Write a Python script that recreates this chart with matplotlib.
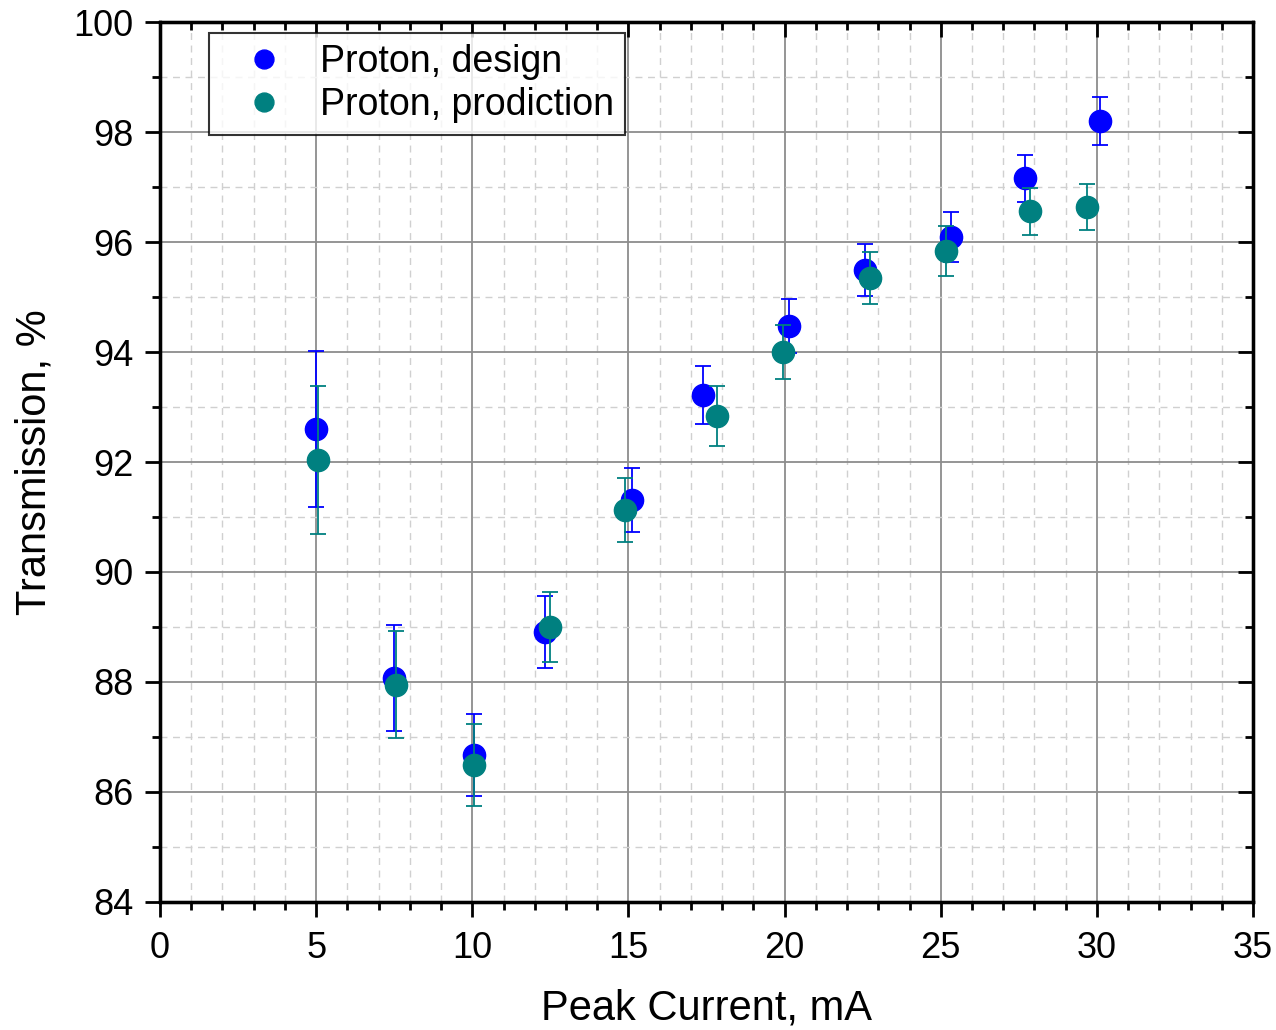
import numpy as np
import matplotlib.pyplot as plt
from matplotlib.ticker import MultipleLocator

plt.rcParams["font.family"] = ["Liberation Sans", "DejaVu Sans"]

# =========================
# 数据
# =========================

design_x = [5.0, 7.5, 10.06, 12.34, 15.1, 17.4, 20.13, 22.56, 25.32, 27.7, 30.1]
design_y = [92.6, 88.07, 86.67, 88.91, 91.31, 93.22, 94.47, 95.49, 96.09, 97.16, 98.2]
design_err = [1.42, 0.96, 0.75, 0.65, 0.59, 0.53, 0.49, 0.47, 0.45, 0.43, 0.43]

pred_x = [5.06, 7.56, 10.06, 12.5, 14.9, 17.82, 19.94, 22.72, 25.16, 27.85, 29.68]
pred_y = [92.04, 87.95, 86.49, 89.0, 91.13, 92.84, 94.0, 95.35, 95.84, 96.56, 96.64]
pred_err = [1.35, 0.97, 0.75, 0.64, 0.58, 0.55, 0.49, 0.47, 0.45, 0.43, 0.42]

# =========================
# 画图
# =========================

fig = plt.figure(figsize=(12.76, 10.30), dpi=100)
ax = fig.add_axes([0.1254, 0.1243, 0.8566, 0.8543])

ax.errorbar(design_x, design_y, yerr=design_err, fmt="o", color="#0000ff",
            ms=16, capsize=6, elinewidth=1.3, capthick=1.3,
            label="Proton, design", zorder=3)
ax.errorbar(pred_x, pred_y, yerr=pred_err, fmt="o", color="#008080",
            ms=16, capsize=6, elinewidth=1.3, capthick=1.3,
            label="Proton, prodiction", zorder=4)

ax.set_xlim(0, 35)
ax.set_ylim(84, 100)
ax.xaxis.set_major_locator(MultipleLocator(5))
ax.xaxis.set_minor_locator(MultipleLocator(1))
ax.yaxis.set_major_locator(MultipleLocator(2))
ax.yaxis.set_minor_locator(MultipleLocator(1))

# 网格
ax.grid(which="major", color="#8c8c8c", linestyle="-", linewidth=1.3, zorder=0)
ax.grid(which="minor", color="#d0d0d0", linestyle=(0, (5, 4)), linewidth=1.0, zorder=0)
ax.set_axisbelow(True)

for s in ax.spines.values():
    s.set_linewidth(2.3)

ax.tick_params(which="major", direction="out", length=11, width=2.0, labelsize=26)
ax.tick_params(which="minor", direction="out", length=6, width=2.0)
ax.tick_params(axis="x", which="major", pad=10)
ax.tick_params(axis="y", which="major", pad=8)

# 上、右两侧的内向刻度
axt = ax.twiny()
axt.set_xlim(ax.get_xlim())
axt.xaxis.set_major_locator(MultipleLocator(5))
axt.xaxis.set_minor_locator(MultipleLocator(1))
axt.tick_params(which="major", direction="in", length=11, width=2.0, labeltop=False)
axt.tick_params(which="minor", direction="in", length=6, width=2.0)

axr = ax.twinx()
axr.set_ylim(ax.get_ylim())
axr.yaxis.set_major_locator(MultipleLocator(2))
axr.yaxis.set_minor_locator(MultipleLocator(1))
axr.tick_params(which="major", direction="in", length=11, width=2.0, labelright=False)
axr.tick_params(which="minor", direction="in", length=6, width=2.0)
for a in (axt, axr):
    for s in a.spines.values():
        s.set_linewidth(2.3)

ax.set_xlabel("Peak Current, mA", fontsize=30, labelpad=16)
ax.set_ylabel("Transmission, %", fontsize=30, labelpad=14)

h, l = ax.get_legend_handles_labels()
h = [x[0] for x in h]
leg = axr.legend(h, l, loc="upper left", bbox_to_anchor=(0.045, 0.988),
                 fontsize=27, fancybox=False, edgecolor="black",
                 handletextpad=0.35, borderpad=0.3, labelspacing=0.2,
                 handlelength=2.3, borderaxespad=0, markerscale=0.85)
leg.get_frame().set_linewidth(1.5)

fig.savefig("out.png", dpi=100)
